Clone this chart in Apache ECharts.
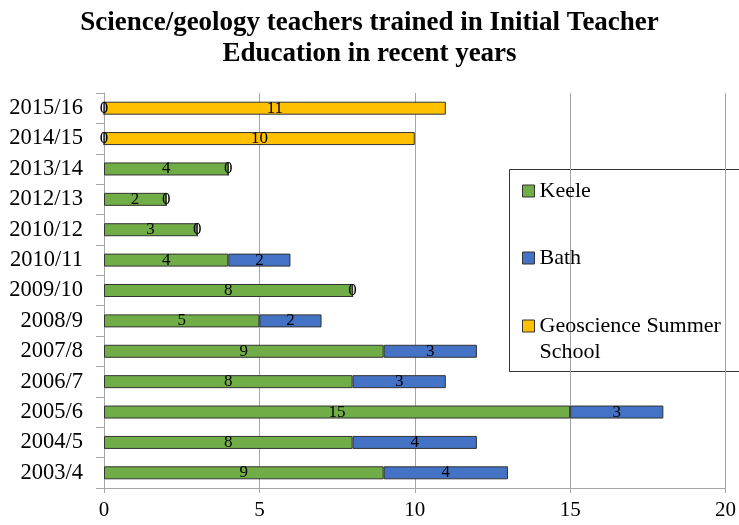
<!DOCTYPE html>
<html>
<head>
<meta charset="utf-8">
<script src="https://cdn.jsdelivr.net/npm/echarts@6/dist/echarts.min.js"></script>
<style>
    html, body { margin: 0; padding: 0; background: #fff; }
    #chart { width: 739px; height: 525px; }
</style>
</head>
<body>
<div id="chart"></div>
<script>
// bottom to top, as drawn
const years = ['2003/4', '2004/5', '2005/6', '2006/7', '2007/8', '2008/9', '2009/10',
    '2010/11', '2010/12', '2012/13', '2013/14', '2014/15', '2015/16'];
const keele = [9, 8, 15, 8, 9, 5, 8, 4, 3, 2, 4, 0, 0];
const bath = [4, 4, 3, 3, 3, 2, 0, 2, 0, 0, 0, '-', '-'];
const geoscience = ['-', '-', '-', '-', '-', '-', '-', '-', '-', '-', '-', 10, 11];
const xTicks = [0, 5, 10, 15, 20];

const serif = '"Liberation Serif", "DejaVu Serif", serif';

function barSeries(name, data, color) {
    return {
        name: name,
        type: 'bar',
        stack: 'total',
        barWidth: 13,
        data: data,
        itemStyle: { color: color, borderColor: '#333', borderWidth: 1 },
        label: {
            show: true,
            position: 'inside',
            color: '#000',
            fontFamily: serif,
            fontSize: 17
        }
    };
}

// one legend per entry so the two-line entry can sit with its icon on the first line
function legendItem(name, top) {
    return {
        orient: 'vertical',
        left: 522,
        top: top,
        padding: 0,
        itemWidth: 12,
        itemHeight: 12,
        icon: 'rect',
        formatter: function (n) {
            // blank first line keeps the icon level with "Geoscience Summer"
            return n === 'Geoscience Summer School' ? ' \nGeoscience Summer\nSchool' : n;
        },
        textStyle: { fontFamily: serif, fontSize: 22, color: '#000', lineHeight: 26 },
        data: [{ name: name, itemStyle: { borderColor: '#333', borderWidth: 1 } }]
    };
}

const option = {
    animation: false,
    title: {
        text: 'Science/geology teachers trained in Initial Teacher\nEducation in recent years',
        left: 'center',
        top: 3,
        textStyle: {
            fontFamily: serif,
            fontWeight: 'bold',
            fontSize: 27,
            lineHeight: 31,
            color: '#000'
        }
    },
    legend: [
        legendItem('Keele', 178),
        legendItem('Bath', 245),
        legendItem('Geoscience Summer School', 287)
    ],
    graphic: [{
        type: 'rect',
        shape: { x: 509.5, y: 169.5, width: 240, height: 202 },
        style: { fill: 'none', stroke: '#333', lineWidth: 1 },
        silent: true
    }],
    grid: { left: 104, right: 11, top: 93, bottom: 37 },
    xAxis: {
        type: 'value',
        min: xTicks[0],
        max: xTicks[xTicks.length - 1],
        interval: 5,
        axisLine: { show: true, lineStyle: { color: '#a6a6a6' } },
        axisTick: { show: true, length: 5, lineStyle: { color: '#a6a6a6' } },
        splitLine: { show: true, lineStyle: { color: '#a6a6a6' } },
        axisLabel: { fontFamily: serif, fontSize: 21, color: '#000', margin: 12 }
    },
    yAxis: {
        type: 'category',
        data: years,
        axisLine: { show: true, lineStyle: { color: '#a6a6a6' } },
        axisTick: { show: true, length: 8, lineStyle: { color: '#a6a6a6' } },
        axisLabel: { fontFamily: serif, fontSize: 22.5, color: '#000', margin: 21 }
    },
    series: [
        barSeries('Keele', keele, '#70ad47'),
        barSeries('Bath', bath, '#4472c4'),
        barSeries('Geoscience Summer School', geoscience, '#ffc000')
    ]
};

echarts.init(document.getElementById('chart')).setOption(option);
</script>
</body>
</html>
